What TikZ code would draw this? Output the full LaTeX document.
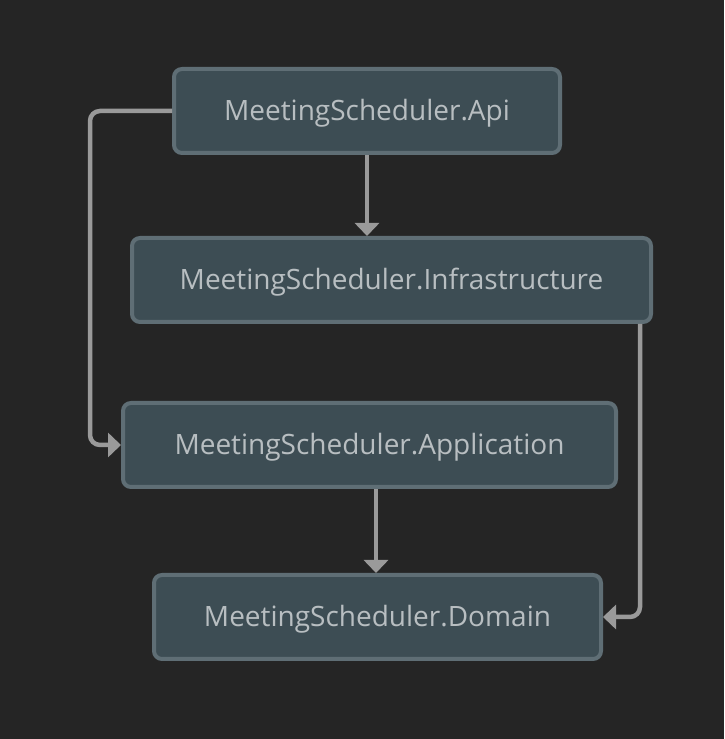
\documentclass[tikz,border=0pt]{standalone}
\usepackage{fontspec}
\setmainfont{Open Sans}
\usetikzlibrary{arrows.meta}
\definecolor{bg}{HTML}{252525}
\definecolor{boxfill}{HTML}{3D4D54}
\definecolor{boxline}{HTML}{5F6E75}
\definecolor{txt}{HTML}{B8BEC1}
\definecolor{edge}{HTML}{9A9A9A}
\newcommand{\lbltext}[1]{\raisebox{-10pt}[0pt][0pt]{#1}}
\tikzset{
  modbox/.style={draw=boxline, fill=boxfill, line width=4pt, rounded corners=8pt,
    text=txt, font=\fontsize{28}{32}\selectfont, inner sep=0pt, anchor=center},
  conn/.style={draw=edge, line width=4.5pt, rounded corners=10pt,
    -{Triangle[width=24pt,length=13pt]}}
}
\begin{document}
\begin{tikzpicture}[x=1pt,y=1pt]
\fill[bg] (0,0) rectangle (724,739);
\useasboundingbox (0,0) rectangle (724,739);
\node[modbox, minimum width=386pt, minimum height=84pt] (api) at (367,628) {\lbltext{MeetingScheduler.Api}};
\node[modbox, minimum width=519pt, minimum height=84pt] (infra) at (391.5,459) {\lbltext{MeetingScheduler.Infrastructure}};
\node[modbox, minimum width=493pt, minimum height=84pt] (app) at (369.5,294) {\lbltext{MeetingScheduler.Application}};
\node[modbox, minimum width=447pt, minimum height=84pt] (dom) at (377.5,122) {\lbltext{MeetingScheduler.Domain}};
\coordinate (c1) at (90,628);
\coordinate (c2) at (90,294);
\coordinate (c3) at (640,122);
\draw[conn] (api.south -| 367,0) -- (infra.north -| 367,0);
\draw[conn] (app.south -| 376,0) -- (dom.north -| 376,0);
\draw[conn] (api.west) -- (c1) -- (c2) -- (app.west);
\draw[conn] (infra.south -| 640,0) -- (c3) -- (dom.east);
\end{tikzpicture}
\end{document}
